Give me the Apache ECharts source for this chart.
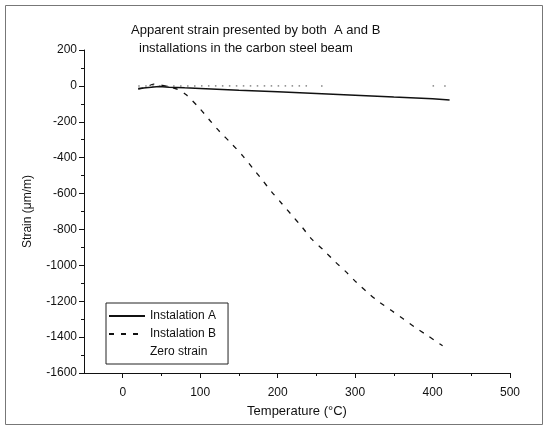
<!DOCTYPE html>
<html><head><meta charset="utf-8">
<script src="https://cdn.jsdelivr.net/npm/echarts@6/dist/echarts.min.js"></script>
<style>html,body{margin:0;padding:0;background:#fff}#c{width:548px;height:428px}</style>
</head><body><div id="c"></div>
<script>
const titleLine1 = 'Apparent strain presented by both  A and B';
const titleLine2 = 'installations in the carbon steel beam';
const xName = 'Temperature (\u00B0C)';
const yName = 'Strain (\u03BCm/m)';
const seriesNames = ['Instalation A', 'Instalation B', 'Zero strain'];
const xMajorTicks = [0, 100, 200, 300, 400, 500];
const xMinorTicks = [50, 150, 250, 350, 450];

const tempA = [20, 30, 40, 47, 60, 80, 100, 150, 200, 250, 300, 350, 400, 422];
const strainA = [-15, -10, -6, -4, -7, -11, -14, -24, -33, -43, -52, -62, -71, -78];

const tempB = [20, 30, 40, 50, 60, 70, 82, 99, 112, 125, 140, 155, 168, 179, 192, 205, 218, 231, 244, 259, 274, 288, 302, 317, 332, 347, 362, 377, 392, 409, 413];
const strainB = [-18, -8, 10, 4, -5, -18, -50, -124, -190, -254, -320, -390, -459, -518, -589, -654, -719, -784, -854, -914, -979, -1035, -1096, -1155, -1207, -1252, -1298, -1344, -1387, -1437, -1448];

const tempZero = [21, 30, 39, 48, 57, 66, 75, 84, 93, 102, 111, 120, 129, 138, 147, 156, 165, 174, 183, 192, 201, 210, 219, 228, 237, 257, 401, 416];
const strainZero = [0, 0, 0, 0, 0, 0, 0, 0, 0, 0, 0, 0, 0, 0, 0, 0, 0, 0, 0, 0, 0, 0, 0, 0, 0, 0, 0, 0];

const zip = (a, b) => a.map((v, i) => [v, b[i]]);
const font = 'Liberation Sans, Arial, sans-serif';
const ink = '#111';

const chart = echarts.init(document.getElementById('c'), null, {renderer: 'canvas'});
chart.setOption({
  backgroundColor: '#fff',
  animation: false,
  title: [
    {text: titleLine1, left: 131, top: 24, padding: 0, textStyle: {fontFamily: font, fontSize: 13, fontWeight: 'normal', color: ink}},
    {text: titleLine2, left: 139, top: 42, padding: 0, textStyle: {fontFamily: font, fontSize: 13, fontWeight: 'normal', color: ink}}
  ],
  graphic: [{type: 'rect', shape: {x: 5.5, y: 5.5, width: 537, height: 419}, style: {fill: 'none', stroke: '#777', lineWidth: 1}, silent: true}],
  grid: {left: 84, right: 38, top: 50, bottom: 55},
  legend: {
    orient: 'vertical', left: 106, top: 303,
    padding: [7, 12, 6, 2], itemGap: 6, itemWidth: 36, itemHeight: 12,
    borderColor: '#222', borderWidth: 1,
    textStyle: {fontFamily: font, fontSize: 12, color: ink},
    data: [
      {name: seriesNames[0], itemStyle: {opacity: 0}},
      {name: seriesNames[1], itemStyle: {opacity: 0}},
      {name: seriesNames[2], icon: 'rect', itemStyle: {opacity: 0}}
    ]
  },
  xAxis: [
    {
      type: 'value', min: -50, max: 500, interval: 50,
      name: xName, nameLocation: 'middle', nameGap: 32,
      nameTextStyle: {fontFamily: font, fontSize: 13, color: ink},
      axisLine: {onZero: false, lineStyle: {color: ink, width: 1}},
      axisTick: {length: 5, customValues: xMajorTicks, lineStyle: {color: ink}},
      splitLine: {show: false},
      axisLabel: {fontFamily: font, fontSize: 12, color: ink, margin: 14, customValues: xMajorTicks}
    },
    {
      type: 'value', min: -50, max: 500, interval: 50, position: 'bottom',
      axisLine: {show: false, onZero: false},
      axisTick: {show: true, length: 3, customValues: xMinorTicks, lineStyle: {color: ink}},
      axisLabel: {show: false},
      splitLine: {show: false}
    }
  ],
  yAxis: {
    type: 'value', min: -1600, max: 200, interval: 200,
    name: yName, nameLocation: 'middle', nameGap: 50,
    nameTextStyle: {fontFamily: font, fontSize: 12, color: ink},
    axisLine: {show: true, onZero: false, lineStyle: {color: ink, width: 1}},
    axisTick: {show: true, length: 5, lineStyle: {color: ink}},
    minorTick: {show: true, splitNumber: 2, length: 3, lineStyle: {color: ink}},
    splitLine: {show: false},
    axisLabel: {fontFamily: font, fontSize: 12, color: ink, margin: 7, formatter: v => String(v)}
  },
  series: [
    {name: seriesNames[0], type: 'line', symbol: 'none', data: zip(tempA, strainA),
      lineStyle: {color: ink, width: 1.5}, itemStyle: {color: ink}},
    {name: seriesNames[1], type: 'line', symbol: 'none', smooth: 0.3, data: zip(tempB, strainB),
      lineStyle: {color: ink, width: 1.3, type: [5, 7]}, itemStyle: {color: ink}},
    {name: seriesNames[2], type: 'scatter', symbol: 'rect', symbolSize: 1.5, data: zip(tempZero, strainZero),
      itemStyle: {color: '#666'}}
  ]
});
</script></body></html>
